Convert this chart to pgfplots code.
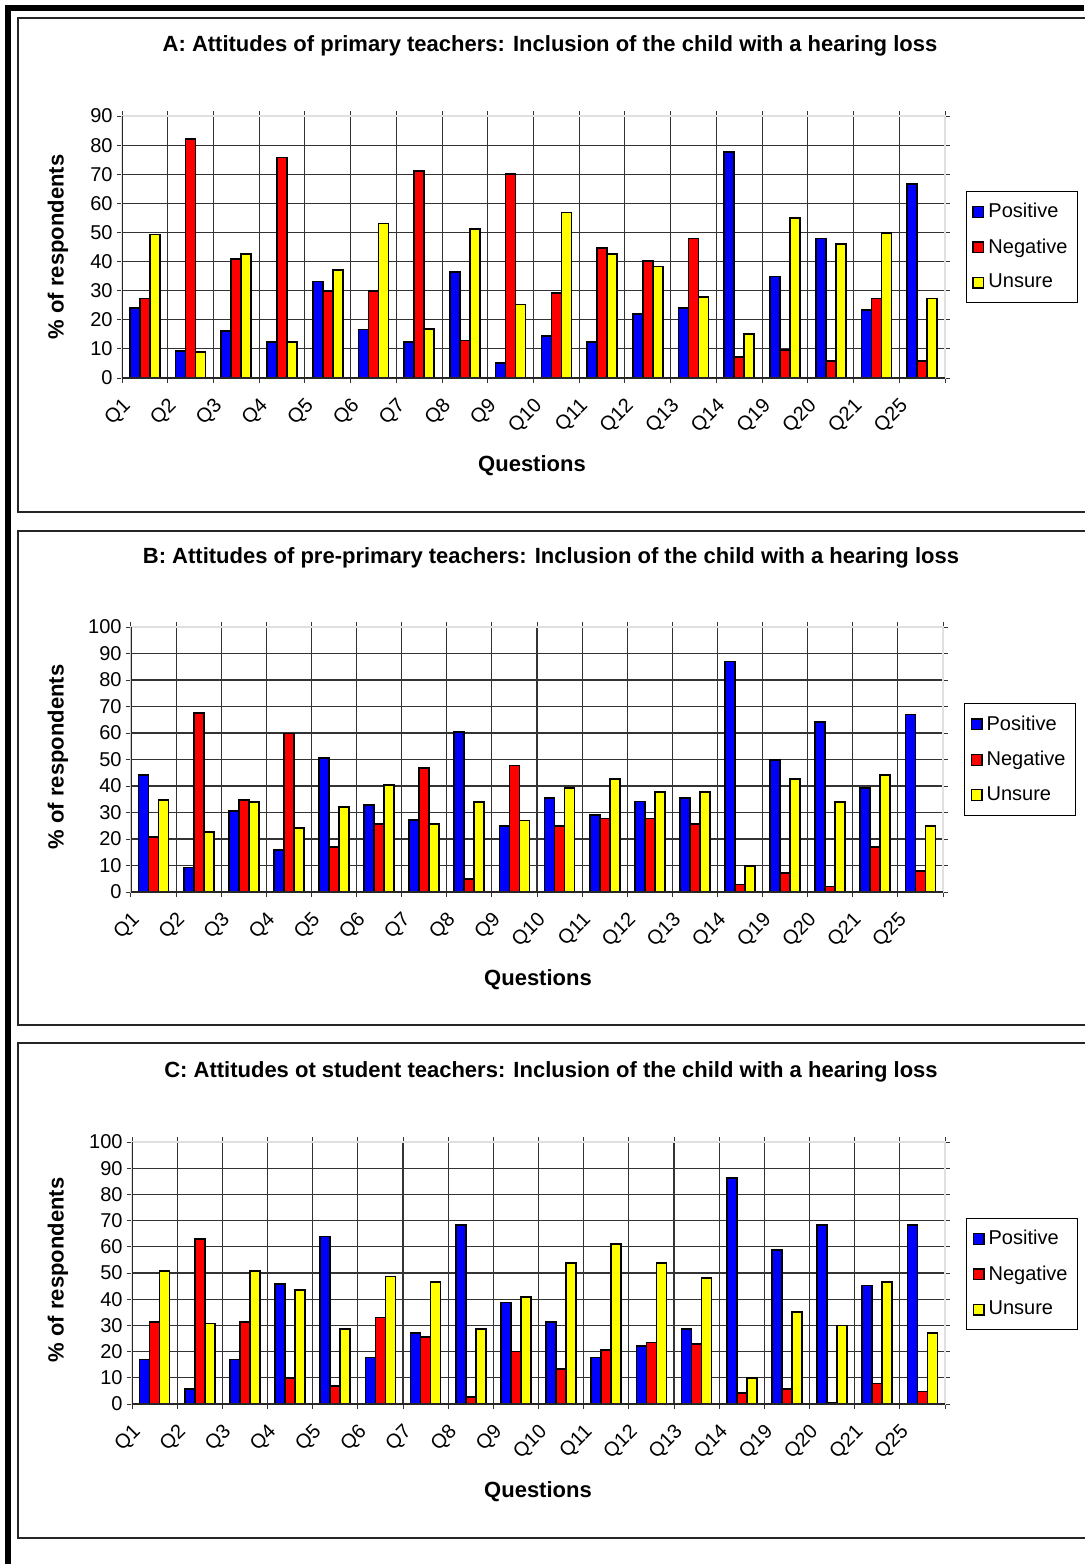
\documentclass[border=0pt]{standalone}
\usepackage{fontspec}
\setmainfont{Liberation Sans}
\usepackage{pgfplots}
\pgfplotsset{compat=1.18}
\usepackage{pgfplotstable}

\definecolor{pos}{RGB}{0,0,255}
\definecolor{neg}{RGB}{255,0,0}
\definecolor{uns}{RGB}{255,255,0}

% x = question index, pos/neg/uns = % of respondents
\pgfplotstableread{
x pos neg uns
0 24.0 27.3 49.3
1 9.2 82.2 8.9
2 16.2 40.8 42.6
3 12.4 75.7 12.4
4 33.1 29.8 37.0
5 16.7 29.8 53.1
6 12.4 71.1 16.8
7 36.3 12.9 51.2
8 5.2 70.0 25.2
9 14.4 29.1 56.9
10 12.4 44.7 42.7
11 22.0 40.2 38.3
12 24.0 47.9 27.8
13 77.7 7.1 15.0
14 34.9 9.7 55.0
15 47.9 5.8 46.0
16 23.4 27.3 49.9
17 66.7 5.8 27.3
}\dataA

\pgfplotstableread{
x pos neg uns
0 44.1 20.7 34.7
1 9.3 67.6 22.7
2 30.6 34.7 34.0
3 15.8 59.8 24.2
4 50.6 17.0 32.0
5 32.8 25.6 40.5
6 27.1 46.9 25.6
7 60.4 4.9 34.0
8 24.8 47.7 27.0
9 35.6 24.8 39.2
10 29.1 27.7 42.7
11 34.2 27.7 37.8
12 35.6 25.7 37.8
13 87.0 2.8 9.8
14 49.8 7.1 42.7
15 64.2 2.1 34.0
16 39.2 17.0 44.1
17 67.0 7.8 24.8
}\dataB

\pgfplotstableread{
x pos neg uns
0 17.0 31.4 50.9
1 5.6 63.0 30.7
2 17.0 31.4 50.9
3 45.8 9.9 43.6
4 63.9 7.0 28.6
5 17.8 33.0 48.7
6 27.1 25.7 46.6
7 68.2 2.7 28.6
8 38.7 20.0 40.8
9 31.4 13.5 53.8
10 17.8 20.6 61.1
11 22.1 23.5 53.8
12 28.6 22.8 48.1
13 86.3 4.2 9.9
14 58.8 5.6 35.1
15 68.2 0.6 30.0
16 45.2 7.8 46.6
17 68.2 4.8 27.1
}\dataC

\pgfplotsset{
  panel/.style={
    scale only axis,
    ybar=0pt, bar width=5pt,
    xmin=-0.5, xmax=17.5, ymin=0,
    xtick={-0.5,0.5,...,17.5},
    xticklabels={Q1,Q2,Q3,Q4,Q5,Q6,Q7,Q8,Q9,Q10,Q11,Q12,Q13,Q14,Q19,Q20,Q21,Q25,{}},
    ytick distance=10,
    grid=major,
    major grid style={black!80, line width=0.55pt},
    axis line style={black!12, line width=0.8pt},
    tick align=outside, major tick length=2.5pt,
    tick style={black!80, line width=0.5pt},
    /pgf/number format/assume math mode=true,
    ticklabel style={font=\fontsize{10}{12}\selectfont},
    xticklabel style={xshift=3pt, yshift=-10pt, rotate=45, anchor=east, inner sep=0pt},
    yticklabel style={inner sep=2pt},
    legend style={draw=black, fill=white, line width=0.5pt,
      font=\fontsize{10}{12}\selectfont, cells={anchor=west},
      row sep=5pt, inner xsep=3pt, inner ysep=4pt},
    legend image code/.code={\draw[##1, draw=black, line width=0.6pt] (0pt,-2.7pt) rectangle (5.4pt,2.7pt);},
    every axis plot/.append style={draw=black, line width=0.85pt},
  }
}

\begin{document}
\begin{tikzpicture}
\useasboundingbox (0,0) rectangle (542pt,-782pt);

% outer frame and panel frames
\draw[black, line width=3pt] (4pt,-782pt) -- (4pt,-3.75pt) -- (542pt,-3.75pt);
\draw[black!85, line width=0.9pt] (9pt,-9pt) rectangle (548pt,-256pt);
\draw[black!85, line width=0.9pt] (9pt,-265.3pt) rectangle (548pt,-512.5pt);
\draw[black!85, line width=0.9pt] (9pt,-521.5pt) rectangle (548pt,-769pt);

% ---- A ----
\node[font=\bfseries\fontsize{11}{13}\selectfont] at (275pt,-23pt)
  {A: Attitudes of primary teachers: Inclusion of the child with a hearing loss};
\node[font=\bfseries\fontsize{11}{13}\selectfont, rotate=90] at (29pt,-123.5pt) {\% of respondents};
\node[font=\bfseries\fontsize{11}{13}\selectfont] at (266pt,-233pt) {Questions};
\begin{axis}[panel, at={(61pt,-189pt)}, anchor=south west,
  width=411.5pt, height=131pt, ymax=90,
  legend style={at={(1.0255,0.5)}, anchor=west}]
\addplot[fill=pos] table[x=x, y=pos] {\dataA};
\addplot[fill=neg] table[x=x, y=neg] {\dataA};
\addplot[fill=uns] table[x=x, y=uns] {\dataA};
\legend{Positive, Negative, Unsure}
\draw[black!85, line width=0.6pt] (rel axis cs:0,1) -- (rel axis cs:0,0) -- (rel axis cs:1,0);
\end{axis}

% ---- B ----
\node[font=\bfseries\fontsize{11}{13}\selectfont] at (275.5pt,-279pt)
  {B: Attitudes of pre-primary teachers: Inclusion of the child with a hearing loss};
\node[font=\bfseries\fontsize{11}{13}\selectfont, rotate=90] at (29pt,-378.5pt) {\% of respondents};
\node[font=\bfseries\fontsize{11}{13}\selectfont] at (269pt,-490pt) {Questions};
\begin{axis}[panel, at={(65.5pt,-446pt)}, anchor=south west,
  width=406pt, height=132.5pt, ymax=100,
  legend style={at={(1.026,0.5)}, anchor=west}]
\addplot[fill=pos] table[x=x, y=pos] {\dataB};
\addplot[fill=neg] table[x=x, y=neg] {\dataB};
\addplot[fill=uns] table[x=x, y=uns] {\dataB};
\legend{Positive, Negative, Unsure}
\draw[black!85, line width=0.6pt] (rel axis cs:0,1) -- (rel axis cs:0,0) -- (rel axis cs:1,0);
\end{axis}

% ---- C ----
\node[font=\bfseries\fontsize{11}{13}\selectfont] at (275.5pt,-536pt)
  {C: Attitudes ot student teachers: Inclusion of the child with a hearing loss};
\node[font=\bfseries\fontsize{11}{13}\selectfont, rotate=90] at (29pt,-635pt) {\% of respondents};
\node[font=\bfseries\fontsize{11}{13}\selectfont] at (269pt,-746pt) {Questions};
\begin{axis}[panel, at={(66pt,-702pt)}, anchor=south west,
  width=406.5pt, height=131pt, ymax=100,
  legend style={at={(1.026,0.496)}, anchor=west}]
\addplot[fill=pos] table[x=x, y=pos] {\dataC};
\addplot[fill=neg] table[x=x, y=neg] {\dataC};
\addplot[fill=uns] table[x=x, y=uns] {\dataC};
\legend{Positive, Negative, Unsure}
\draw[black!85, line width=0.6pt] (rel axis cs:0,1) -- (rel axis cs:0,0) -- (rel axis cs:1,0);
\end{axis}
\end{tikzpicture}
\end{document}
